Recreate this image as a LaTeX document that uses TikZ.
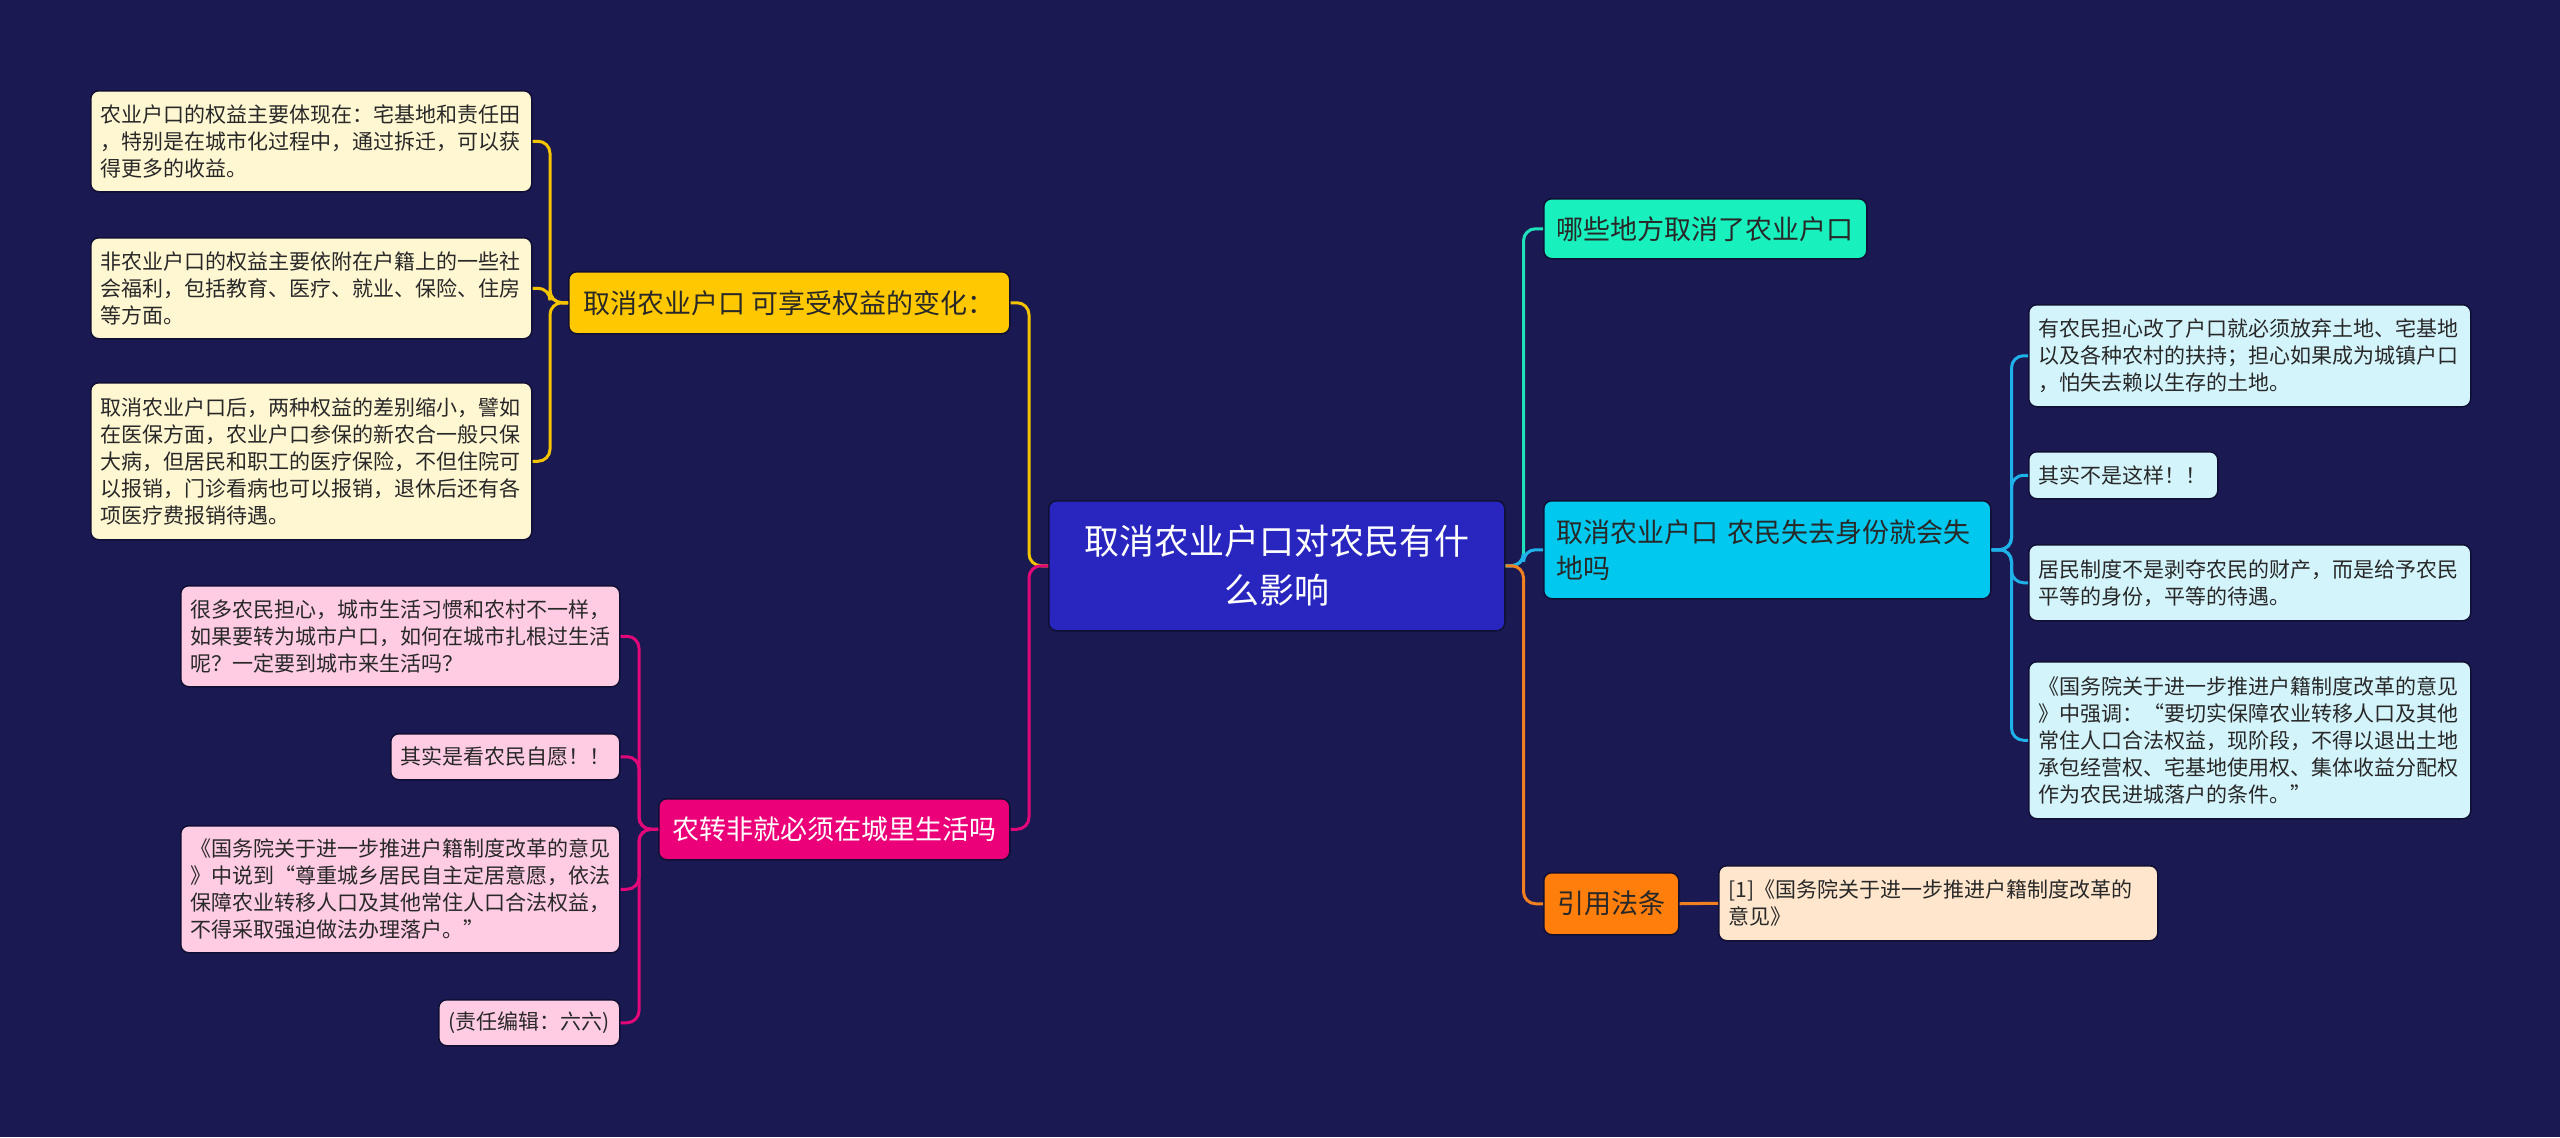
\documentclass[tikz,border=0pt]{standalone}
\usepackage{fontspec}
\setmainfont{Noto Sans CJK SC}
\definecolor{bg}{RGB}{27,25,82}
\definecolor{edge}{RGB}{16,15,52}
\definecolor{cmain}{RGB}{40,38,190}
\definecolor{cteal}{RGB}{24,240,190}
\definecolor{ccyan}{RGB}{0,200,238}
\definecolor{corange}{RGB}{255,126,12}
\definecolor{cyellow}{RGB}{255,200,0}
\definecolor{cpink}{RGB}{236,0,122}
\definecolor{lyellow}{RGB}{255,247,210}
\definecolor{lpink}{RGB}{255,204,228}
\definecolor{lcyan}{RGB}{212,244,252}
\definecolor{lpeach}{RGB}{255,230,205}
\definecolor{lineyellow}{RGB}{245,196,0}
\definecolor{linepink}{RGB}{226,8,122}
\definecolor{lineteal}{RGB}{30,226,186}
\definecolor{linecyan}{RGB}{30,178,232}
\definecolor{lineorange}{RGB}{240,128,32}
\definecolor{tdark}{RGB}{40,40,40}
\begin{document}
\begin{tikzpicture}[x=1bp,y=-1bp,
  box/.style={rounded corners=8bp, anchor=north west, inner ysep=0pt,
    draw=edge, line width=1.5bp},
  leaf/.style={box, inner xsep=10bp, align=left, text=tdark,
    font=\fontsize{21bp}{27bp}\selectfont},
  branch/.style={box, inner xsep=13bp, align=left,
    font=\fontsize{27bp}{36bp}\selectfont},
  conn/.style={line width=3bp, rounded corners=12bp}
]
\fill[bg] (0,0) rectangle (2560,1137);
\useasboundingbox (0,0) rectangle (2560,1137);

% connectors: center -> branches (drawn first, under nodes)
\coordinate (CW) at (1048,565);
\coordinate (CE) at (1504,565);

% center
\node[box, fill=cmain, text=white, align=center, inner xsep=10bp,
  minimum width=456bp, minimum height=130bp, text width=436bp,
  font=\fontsize{35bp}{49bp}\selectfont] (C) at (1048,500)
  {取消农业户口对农民有什\\么影响};

% right branches
\node[branch, fill=cteal, text=tdark, minimum width=323bp, minimum height=60bp] (T) at (1543,198) {哪些地方取消了农业户口};
\node[branch, fill=ccyan, text=tdark, minimum width=447bp, minimum height=98bp, text width=421bp] (B) at (1543,500) {取消农业户口 农民失去身份就会失\\地吗};
\node[branch, fill=corange, text=tdark, minimum width=135bp, minimum height=62bp] (O) at (1543,872) {引用法条};

% left branches
\node[branch, fill=cyellow, text=tdark, minimum width=441bp, minimum height=62bp] (Y) at (568,271) {取消农业户口 可享受权益的变化：};
\node[branch, fill=cpink, text=white, minimum width=351bp, minimum height=61bp] (P) at (658,798) {农转非就必须在城里生活吗};

% yellow leaves
\node[leaf, fill=lyellow, text width=421bp, minimum height=101bp] (Y1) at (90,90)
 {农业户口的权益主要体现在：宅基地和责任田\\，特别是在城市化过程中，通过拆迁，可以获\\得更多的收益。};
\node[leaf, fill=lyellow, text width=421bp, minimum height=101bp] (Y2) at (90,237)
 {非农业户口的权益主要依附在户籍上的一些社\\会福利，包括教育、医疗、就业、保险、住房\\等方面。};
\node[leaf, fill=lyellow, text width=421bp, minimum height=157bp] (Y3) at (90,382)
 {取消农业户口后，两种权益的差别缩小，譬如\\在医保方面，农业户口参保的新农合一般只保\\大病，但居民和职工的医疗保险，不但住院可\\以报销，门诊看病也可以报销，退休后还有各\\项医疗费报销待遇。};

% pink leaves
\node[leaf, fill=lpink, text width=419bp, minimum height=101bp] (P1) at (180,585)
 {很多农民担心，城市生活习惯和农村不一样，\\如果要转为城市户口，如何在城市扎根过生活\\呢？一定要到城市来生活吗？};
\node[leaf, fill=lpink, text width=209bp, minimum height=46bp] (P2) at (390,733)
 {其实是看农民自愿！！};
\node[leaf, fill=lpink, text width=419bp, minimum height=127bp] (P3) at (180,825)
 {《国务院关于进一步推进户籍制度改革的意见\\》中说到“尊重城乡居民自主定居意愿，依法\\保障农业转移人口及其他常住人口合法权益，\\不得采取强迫做法办理落户。”};
\node[leaf, fill=lpink, text width=161bp, minimum height=46bp] (P4) at (438,999)
 {(责任编辑：六六)};

% cyan leaves
\node[leaf, fill=lcyan, text width=422bp, minimum height=102bp] (R1) at (2028,304)
 {有农民担心改了户口就必须放弃土地、宅基地\\以及各种农村的扶持；担心如果成为城镇户口\\，怕失去赖以生存的土地。};
\node[leaf, fill=lcyan, text width=169bp, minimum height=47bp] (R2) at (2028,451)
 {其实不是这样！！};
\node[leaf, fill=lcyan, text width=422bp, minimum height=76bp] (R3) at (2028,544)
 {居民制度不是剥夺农民的财产，而是给予农民\\平等的身份，平等的待遇。};
\node[leaf, fill=lcyan, text width=422bp, minimum height=157bp] (R4) at (2028,661)
 {《国务院关于进一步推进户籍制度改革的意见\\》中强调：“要切实保障农业转移人口及其他\\常住人口合法权益，现阶段，不得以退出土地\\承包经营权、宅基地使用权、集体收益分配权\\作为农民进城落户的条件。”};

% citation leaf
\node[leaf, fill=lpeach, text width=419bp, minimum height=75bp] (Q) at (1718,865)
 {[1]《国务院关于进一步推进户籍制度改革的\\意见》};

% connectors: center -> branches
\draw[conn, lineyellow] (C.west) -- ++(-19,0) |- (Y.east);
\draw[conn, linepink] (C.west) -- ++(-19,0) |- (P.east);
\draw[conn, lineteal] (C.east) -- ++(18,0) |- (T.west);
\draw[conn, linecyan] (C.east) -- ++(18,0) |- (B.west);
\draw[conn, lineorange] (C.east) -- ++(18,0) |- (O.west);

% yellow branch -> leaves
\foreach \n in {Y1,Y2,Y3}
  \draw[conn, lineyellow] (Y.west) -- ++(-18,0) |- (\n.east);
% pink branch -> leaves
\foreach \n in {P1,P2,P3,P4}
  \draw[conn, linepink] (P.west) -- ++(-19,0) |- (\n.east);
% cyan branch -> leaves
\foreach \n in {R1,R2,R3,R4}
  \draw[conn, linecyan] (B.east) -- ++(20,0) |- (\n.west);
% orange -> citation
\draw[conn, lineorange] (O.east) -- (Q.west);
\end{tikzpicture}
\end{document}
